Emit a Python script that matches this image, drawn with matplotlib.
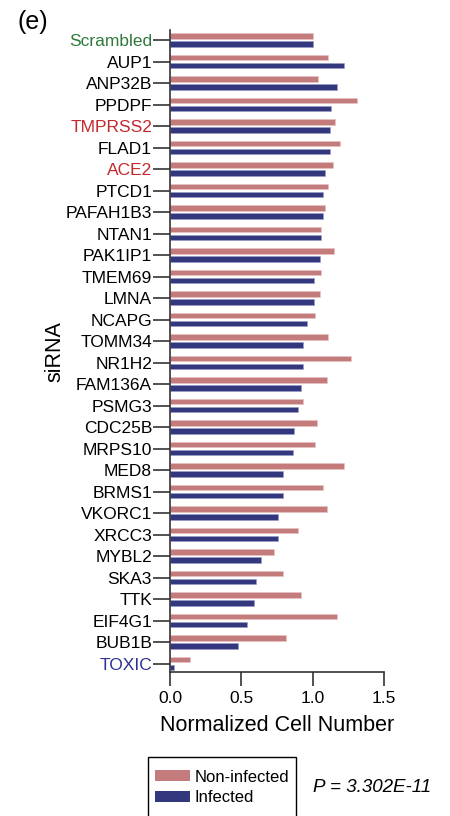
import numpy as np
import matplotlib
matplotlib.use("Agg")
import matplotlib.pyplot as plt
from matplotlib.patches import Patch, Rectangle

plt.rcParams["font.family"] = ["Liberation Sans", "DejaVu Sans"]

genes = ["Scrambled", "AUP1", "ANP32B", "PPDPF", "TMPRSS2", "FLAD1", "ACE2",
         "PTCD1", "PAFAH1B3", "NTAN1", "PAK1IP1", "TMEM69", "LMNA", "NCAPG",
         "TOMM34", "NR1H2", "FAM136A", "PSMG3", "CDC25B", "MRPS10", "MED8",
         "BRMS1", "VKORC1", "XRCC3", "MYBL2", "SKA3", "TTK", "EIF4G1",
         "BUB1B", "TOXIC"]
non_infected = [1.00, 1.11, 1.04, 1.31, 1.16, 1.19, 1.14, 1.11, 1.09, 1.06,
                1.15, 1.06, 1.05, 1.02, 1.11, 1.27, 1.10, 0.93, 1.03, 1.02,
                1.22, 1.07, 1.10, 0.90, 0.73, 0.79, 0.92, 1.17, 0.81, 0.14]
infected = [1.00, 1.22, 1.17, 1.13, 1.12, 1.12, 1.09, 1.07, 1.07, 1.06,
            1.05, 1.01, 1.01, 0.96, 0.93, 0.93, 0.92, 0.90, 0.87, 0.86,
            0.79, 0.79, 0.76, 0.76, 0.64, 0.60, 0.59, 0.54, 0.48, 0.03]
label_colors = {"Scrambled": "#2f7a3b", "TMPRSS2": "#c3282e",
                "ACE2": "#c3282e", "TOXIC": "#2d3090"}
p_text = "P = 3.302E-11"

PINK = "#c47b7c"
NAVY = "#33387e"

W, H = 450, 816
fig = plt.figure(figsize=(4.5, 8.16), dpi=100)
ax = fig.add_axes([0.378, 0.1765, 0.475, 0.7865])

y = np.arange(len(genes))
h = 0.26
ax.barh(y - 0.2, non_infected, height=h, color=PINK, edgecolor="#e8c4c4", linewidth=0.4)
ax.barh(y + 0.18, infected, height=h, color=NAVY, edgecolor="#9a9cc8", linewidth=0.4)

ax.set_ylim(len(genes) - 1 + 0.38, -0.47)
ax.set_xlim(0, 1.5)
ax.set_yticks(y)
ax.set_yticklabels(genes, fontsize=12.5)
for lab in ax.get_yticklabels():
    lab.set_color(label_colors.get(lab.get_text(), "black"))
ax.set_xticks([0.0, 0.5, 1.0, 1.5])
ax.set_xticklabels(["0.0", "0.5", "1.0", "1.5"], fontsize=12.5)
ax.tick_params(axis="y", length=12, width=1.2, pad=1, color="#333333")
ax.tick_params(axis="x", length=10, width=1.2, pad=4, color="#333333")
for s in ["top", "right"]:
    ax.spines[s].set_visible(False)
for s in ["left", "bottom"]:
    ax.spines[s].set_linewidth(1.2)
    ax.spines[s].set_color("#333333")

ax.set_xlabel("Normalized Cell Number", fontsize=15.5, labelpad=6)
ax.set_ylabel("siRNA", fontsize=15.5)
ax.yaxis.set_label_coords(-0.49, 0.5)

fig.text(0.038, 0.973, "(e)", fontsize=18, va="center")

# legend box runs off the bottom edge in the original
fig.patches.append(Rectangle((148 / W, 1 - 830 / H), 148 / W, 73 / H,
                             transform=fig.transFigure, fill=False,
                             edgecolor="black", linewidth=1.0))
handles = [Patch(facecolor=PINK, label="Non-infected"),
           Patch(facecolor=NAVY, label="Infected")]
leg = fig.legend(handles=handles, loc="center left",
                 bbox_to_anchor=(155 / W, 1 - 787.5 / H), fontsize=12,
                 frameon=False, handlelength=2.1, handleheight=0.6,
                 handletextpad=0.3, labelspacing=0.35,
                 borderpad=0, borderaxespad=0)

fig.text(313 / W, 1 - 787 / H, p_text, fontsize=13.5, style="italic", va="center")

fig.savefig("out.png", dpi=100)
